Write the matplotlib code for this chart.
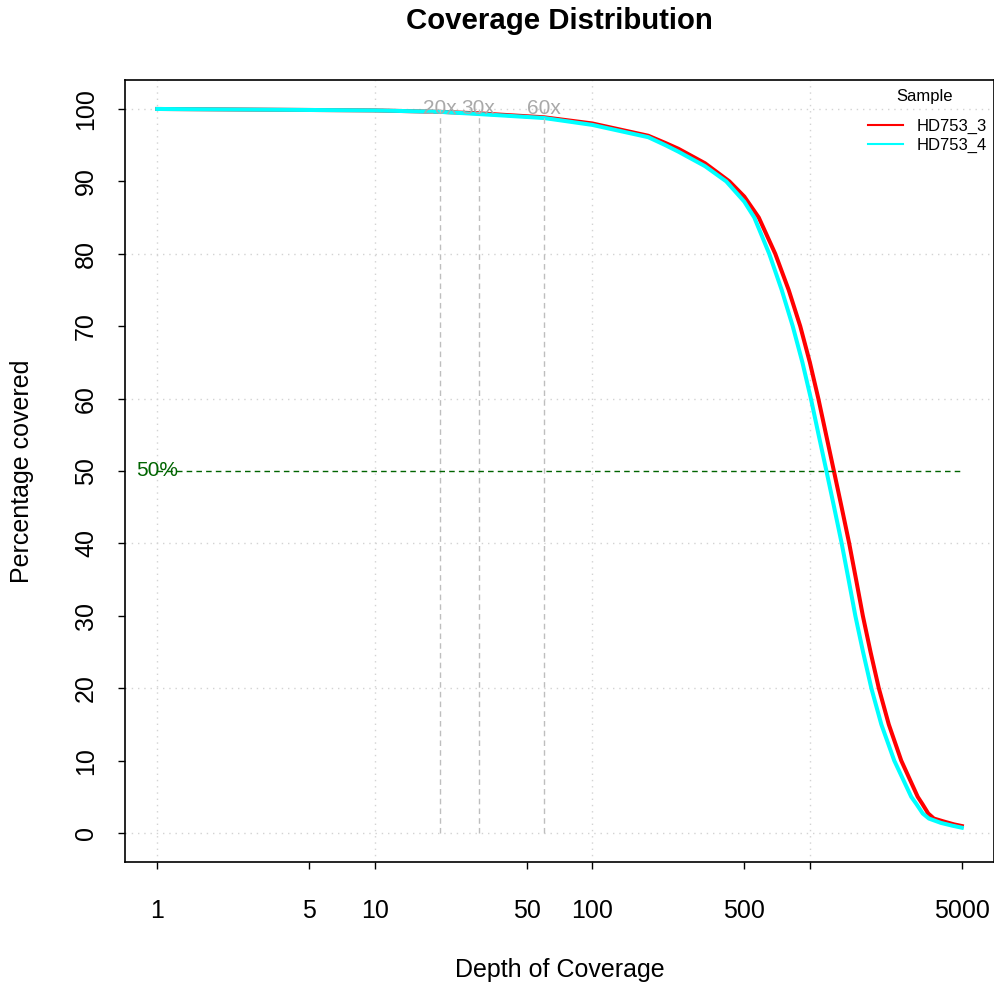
import numpy as np
import matplotlib.pyplot as plt

plt.rcParams['font.family'] = ['Liberation Sans', 'DejaVu Sans']

samples = ['HD753_3', 'HD753_4']
colors = ['red', 'cyan']

# depth / percentage covered
depth_3 = [1, 10, 20, 30, 60, 100, 181, 217, 249, 330, 427, 500, 583, 694, 800, 904,
           1001, 1095, 1189, 1291, 1401, 1518, 1633, 1754, 1903, 2077, 2308, 2634,
           3136, 3296, 3504, 3721, 4180, 4600, 5000]
pct_3 = [100, 99.8, 99.6, 99.4, 98.85, 98.0, 96.3, 95.3, 94.5, 92.5, 90, 87.9, 85, 80,
         75, 70, 65, 60, 55, 50, 45, 40, 35, 30, 25, 20, 15, 10, 5, 4, 2.7, 2, 1.55,
         1.2, 0.97]

depth_4 = [1, 10, 20, 30, 60, 100, 181, 217, 249, 330, 413, 500, 556, 651, 743, 835,
           925, 1012, 1098, 1193, 1294, 1402, 1508, 1620, 1758, 1919, 2133, 2446,
           2928, 3093, 3306, 3530, 4008, 4548, 5000]
pct_4 = [100, 99.8, 99.6, 99.3, 98.75, 97.8, 96.1, 95, 94.1, 92.1, 90, 87.2, 85, 80,
         75, 70, 65, 60, 55, 50, 45, 40, 35, 30, 25, 20, 15, 10, 5, 4, 2.7, 2, 1.4,
         1.0, 0.74]

marks = [20, 30, 60]
mark_labels = ['20x', '30x', '60x']
xticks = [1, 5, 10, 50, 100, 500, 1000, 5000]
xtick_labels = ['1', '5', '10', '50', '100', '500', '', '5000']
yticks = list(range(0, 101, 10))

fig = plt.figure(figsize=(9.95, 9.84), dpi=100)
ax = fig.add_axes([125/995, 122/984, (994-125)/995, (862-80)/984])
ax.set_xscale('log')
lo, hi = 0, np.log10(5000)
ext = (hi - lo) * 0.04
ax.set_xlim(10**(lo - ext), 10**(hi + ext))
ax.set_ylim(-4, 104)

# grid
for g in [1, 10, 100, 1000]:
    ax.axvline(g, color='lightgray', lw=1, ls=(0, (1, 3.5)), zorder=0)
for g in range(0, 101, 20):
    ax.axhline(g, color='lightgray', lw=1, ls=(0, (1, 3.5)), zorder=0)

ax.plot(depth_3, pct_3, color=colors[0], lw=2.9, label=samples[0])
ax.plot(depth_4, pct_4, color=colors[1], lw=2.9, label=samples[1])

for m, lab in zip(marks, mark_labels):
    ax.plot([m, m], [0, 100], color='#BEBEBE', lw=1, ls=(0, (4, 3)))
    ax.text(m, 100, lab, color='darkgray', fontsize=15, ha='center', va='center')

ax.plot([1, 5000], [50, 50], color='darkgreen', lw=1, ls=(0, (4, 3)))
ax.text(1, 50, '50%', color='darkgreen', fontsize=15, ha='center', va='center')

ax.set_xticks(xticks)
ax.set_xticklabels(xtick_labels)
ax.minorticks_off()
ax.set_yticks(yticks)
ax.set_yticklabels([str(v) for v in yticks], rotation=90, va='center')
ax.tick_params(axis='both', labelsize=18, length=5, width=1)
ax.tick_params(axis='x', pad=22)
ax.tick_params(axis='y', pad=14.5)
for s in ax.spines.values():
    s.set_linewidth(1.2)

ax.set_xlabel('Depth of Coverage', fontsize=18, labelpad=25)
ax.set_ylabel('Percentage covered', fontsize=18, labelpad=29)

fig.text((125 + 994) / 2 / 995, 1 - 21/984, 'Coverage Distribution', fontsize=21.2,
         fontweight='bold', ha='center', va='center')

# legend
fig.text(925/995, 1 - 97/984, 'Sample', fontsize=12, ha='center', va='center')
leg = ax.legend(loc='upper left', bbox_to_anchor=(853/995, 1 - 104/984),
                bbox_transform=fig.transFigure, frameon=False,
                fontsize=12, handlelength=2.1, labelspacing=0.25, borderpad=0.4)
for l in leg.get_lines():
    l.set_linewidth(1.5)

fig.savefig('out.png', dpi=100)
